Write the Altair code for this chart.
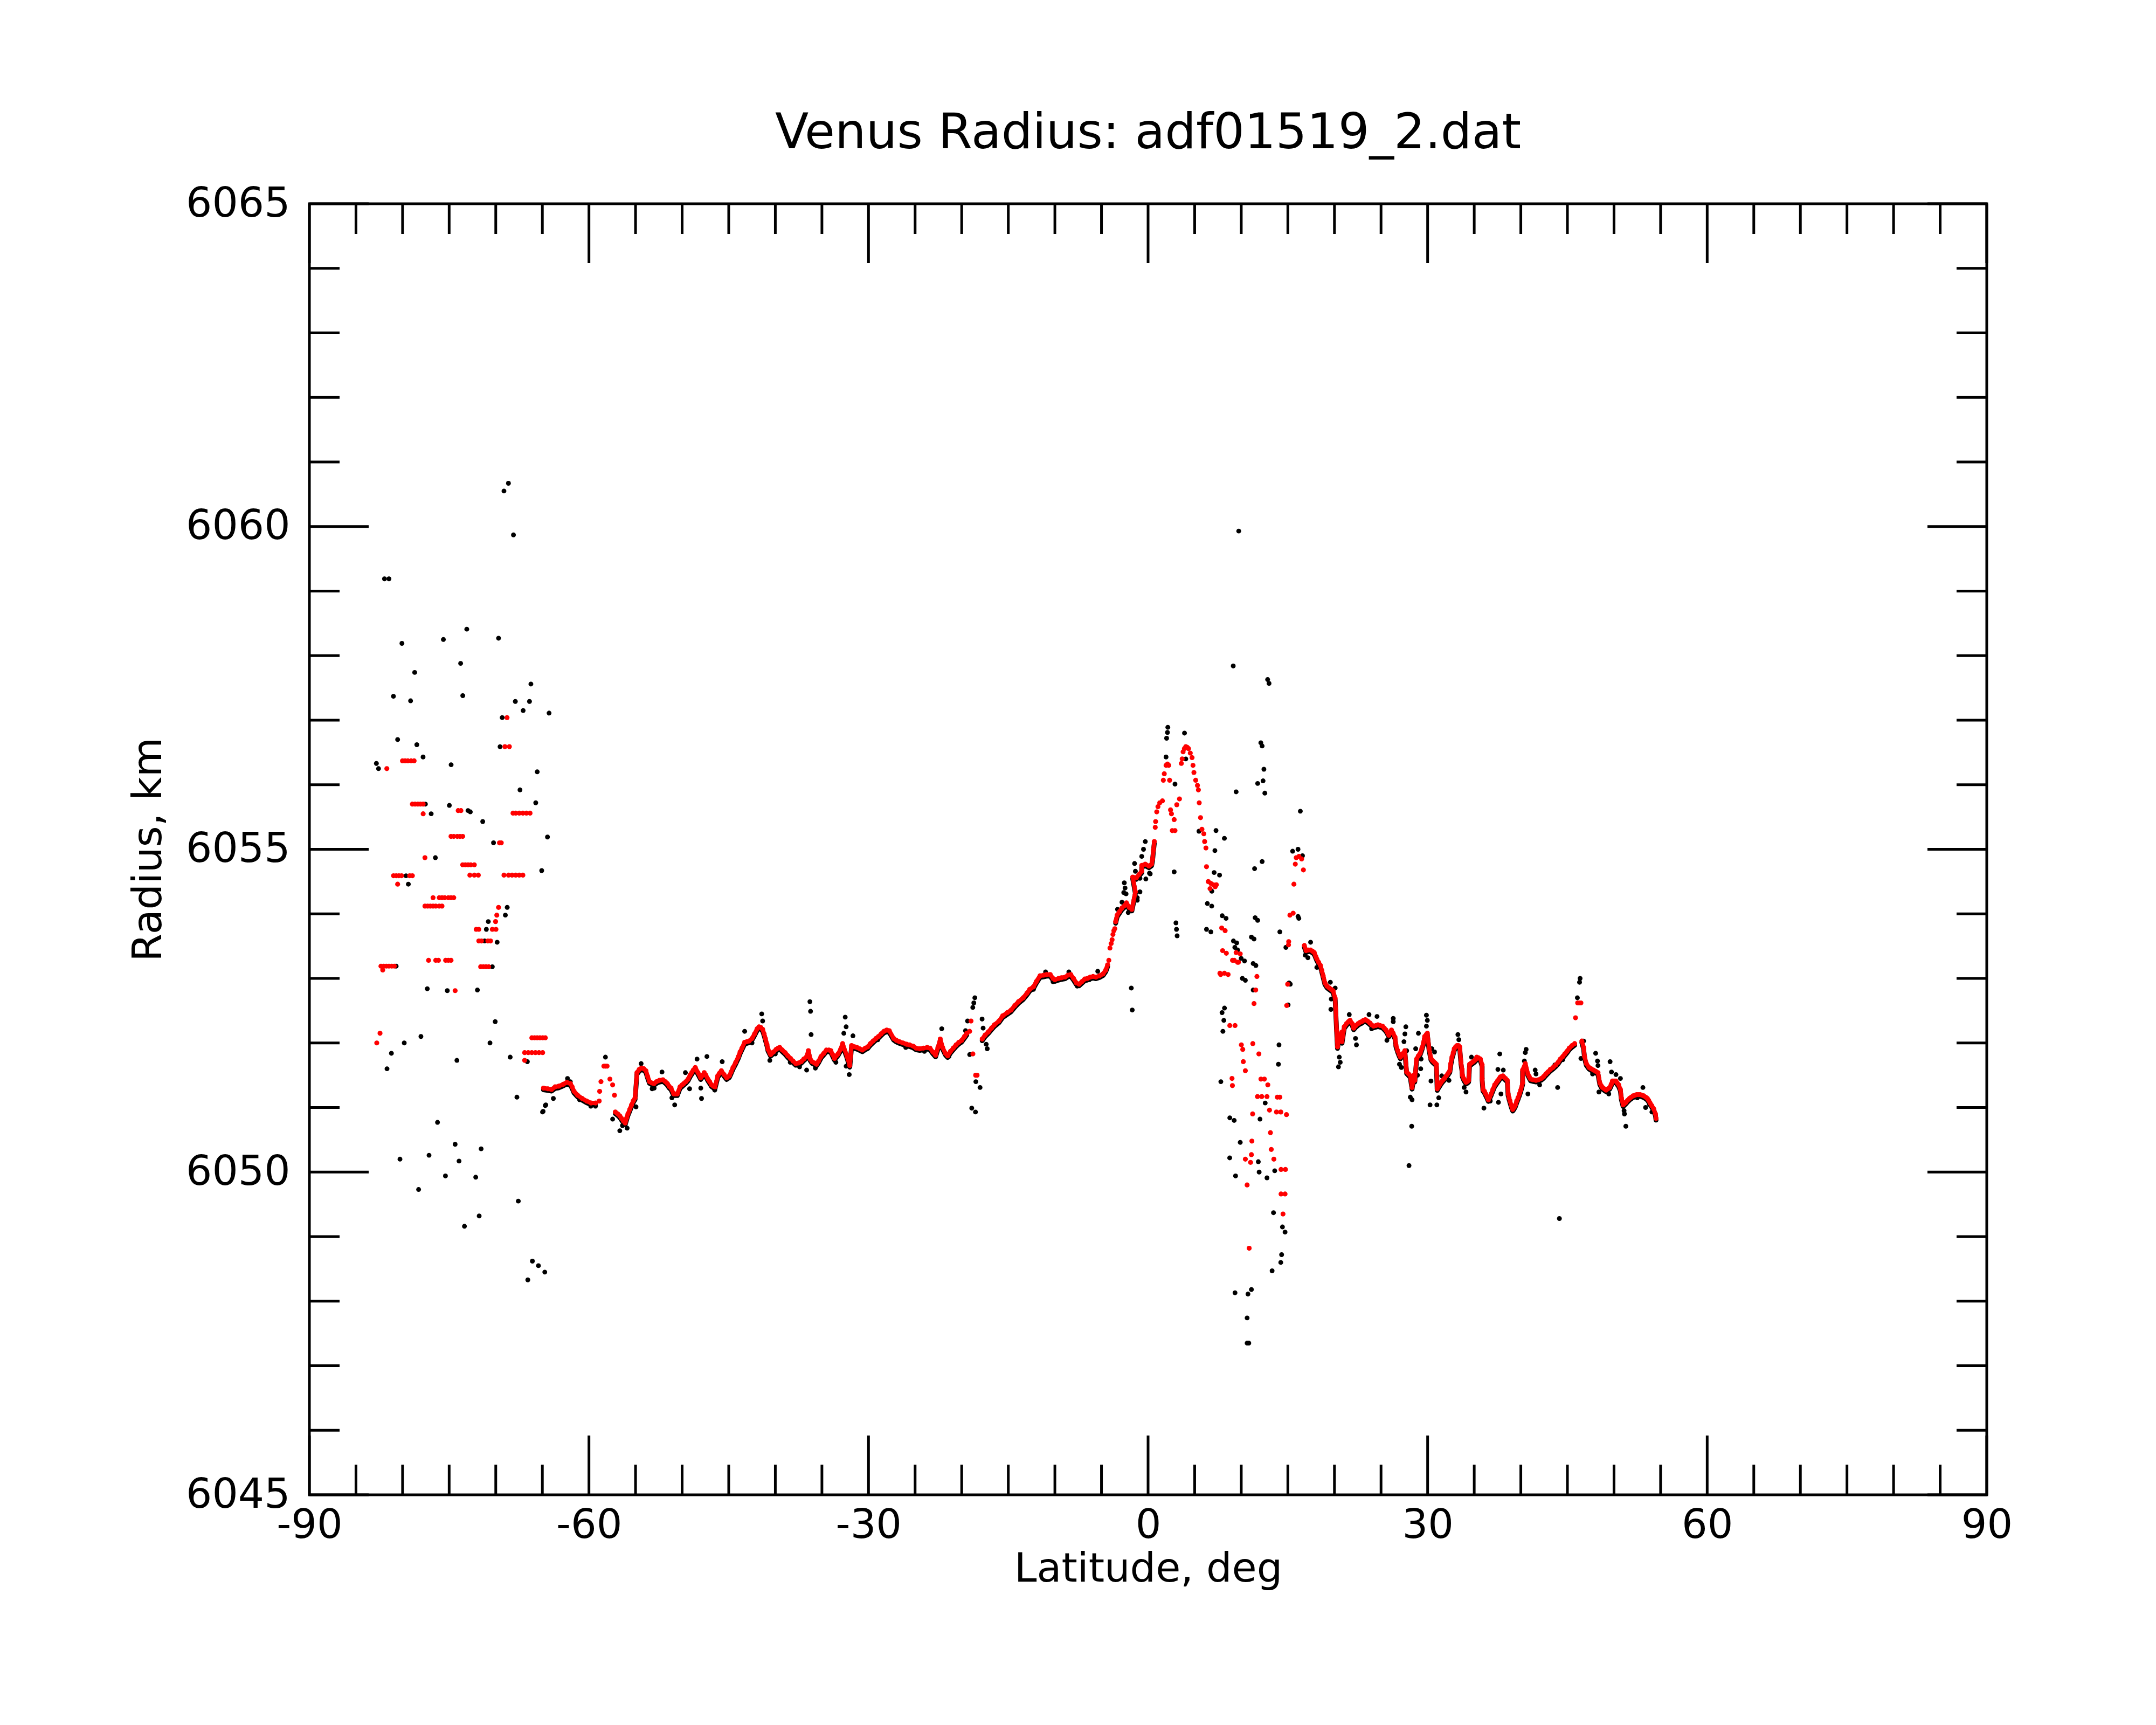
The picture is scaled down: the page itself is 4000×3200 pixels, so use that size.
import altair as alt
import pandas as pd

TITLE = "Venus Radius: adf01519_2.dat"
X_TITLE = "Latitude, deg"
Y_TITLE = "Radius, km"

# ---------------- tick values ----------------
x_major = [-90, -60, -30, 0, 30, 60, 90]
x_minor = [-85, -80, -75, -70, -65, -55, -50, -45, -40, -35, -25, -20, -15, -10, -5,
           5, 10, 15, 20, 25, 35, 40, 45, 50, 55, 65, 70, 75, 80, 85]
y_major = [6045, 6050, 6055, 6060, 6065]
y_minor = [6046, 6047, 6048, 6049, 6051, 6052, 6053, 6054, 6056, 6057, 6058, 6059,
           6061, 6062, 6063, 6064]

# latitude ranges in which the filtered (red) track is continuous
track_ranges = [(-64.9, -59.0), (-57.2, -19.2), (-17.9, -4.3), (-3.5, 0.7),
                (16.7, 45.8), (46.5, 54.6)]

# ---------------- red (filtered) points: (latitude, radius) ----------------
red_south = [
    (-82.77, 6052.00), (-82.42, 6052.15),
    (-82.32, 6053.19), (-82.13, 6053.13), (-82.03, 6053.19), (-81.74, 6053.19), (-81.46, 6053.19),
    (-81.17, 6053.19), (-80.88, 6053.19),
    (-81.69, 6056.25),
    (-80.97, 6054.59), (-80.68, 6054.59), (-80.40, 6054.59), (-80.11, 6054.59), (-79.24, 6054.59),
    (-78.95, 6054.59), (-80.53, 6054.46),
    (-80.01, 6056.37), (-79.72, 6056.37), (-79.43, 6056.37), (-79.08, 6056.37), (-78.76, 6056.37),
    (-78.95, 6055.70), (-78.66, 6055.70), (-78.37, 6055.70), (-78.08, 6055.70), (-77.79, 6055.70),
    (-77.79, 6055.55), (-77.60, 6054.87),
    (-77.60, 6054.12), (-77.31, 6054.12), (-77.02, 6054.12), (-76.73, 6054.12), (-76.44, 6054.12),
    (-76.06, 6054.12), (-75.77, 6054.12),
    (-76.73, 6054.25), (-76.06, 6054.25), (-75.77, 6054.25), (-75.48, 6054.25), (-75.09, 6054.25),
    (-74.80, 6054.25), (-74.51, 6054.25),
    (-77.21, 6053.28), (-76.44, 6053.28), (-76.15, 6053.28), (-75.38, 6053.28), (-75.09, 6053.28),
    (-74.80, 6053.28),
    (-74.80, 6055.20), (-74.51, 6055.20), (-74.13, 6055.20), (-73.84, 6055.20), (-73.55, 6055.20),
    (-74.36, 6052.81), (-74.03, 6055.60), (-73.74, 6055.60),
    (-73.55, 6054.76), (-73.26, 6054.76), (-72.97, 6054.76), (-72.68, 6054.76), (-72.30, 6054.76),
    (-72.78, 6054.60), (-72.30, 6054.60), (-71.87, 6054.60),
    (-72.10, 6053.76), (-71.82, 6053.76), (-70.37, 6053.76), (-69.98, 6053.76),
    (-71.82, 6053.58), (-71.53, 6053.58), (-70.85, 6053.58), (-70.56, 6053.58),
    (-71.62, 6053.18), (-71.33, 6053.18), (-71.04, 6053.18), (-70.76, 6053.18),
    (-70.02, 6053.88), (-69.89, 6053.98), (-69.70, 6054.10),
    (-69.60, 6055.10), (-69.41, 6055.10),
    (-69.12, 6054.60), (-68.63, 6054.60), (-68.25, 6054.60), (-67.86, 6054.60), (-67.48, 6054.60),
    (-67.09, 6054.60),
    (-69.02, 6056.59), (-68.54, 6056.59), (-68.79, 6057.04),
    (-68.15, 6055.56), (-67.86, 6055.56), (-67.48, 6055.56), (-67.09, 6055.56), (-66.71, 6055.56),
    (-66.32, 6055.56),
    (-66.90, 6051.85), (-66.51, 6051.85), (-66.13, 6051.85), (-65.74, 6051.85), (-65.36, 6051.85),
    (-64.97, 6051.85), (-66.90, 6051.73),
    (-66.13, 6052.08), (-65.84, 6052.08), (-65.55, 6052.08), (-65.26, 6052.08), (-64.97, 6052.08),
    (-64.68, 6052.08),
]

red_main_south = [
    (-64.88, 6051.30), (-64.40, 6051.29), (-64.01, 6051.28), (-63.63, 6051.32), (-63.24, 6051.33),
    (-62.76, 6051.36), (-62.37, 6051.39), (-61.99, 6051.37), (-61.80, 6051.32), (-61.60, 6051.25),
    (-61.22, 6051.19), (-60.73, 6051.14), (-60.25, 6051.10), (-59.77, 6051.07), (-59.29, 6051.07),
    (-58.90, 6051.10), (-58.85, 6051.25), (-58.71, 6051.40), (-58.40, 6051.64), (-58.23, 6051.64),
    (-58.05, 6051.64), (-57.75, 6051.44), (-57.46, 6051.35), (-57.26, 6051.19),
    (-57.17, 6050.93), (-56.90, 6050.90), (-56.69, 6050.87), (-56.50, 6050.83), (-56.30, 6050.79),
    (-56.11, 6050.76), (-55.95, 6050.84), (-55.82, 6050.90), (-55.62, 6050.97), (-55.43, 6051.04),
    (-55.25, 6051.10), (-55.05, 6051.15),
    (-54.85, 6051.54), (-54.60, 6051.59), (-54.37, 6051.61), (-54.10, 6051.60), (-53.89, 6051.57),
    (-53.70, 6051.48), (-53.50, 6051.40), (-53.25, 6051.38), (-53.02, 6051.37), (-52.75, 6051.40),
    (-52.45, 6051.42), (-52.06, 6051.43), (-51.80, 6051.40), (-51.58, 6051.37), (-51.40, 6051.33),
    (-51.19, 6051.30), (-50.90, 6051.21), (-50.70, 6051.21), (-50.52, 6051.21), (-50.23, 6051.32),
    (-50.00, 6051.35), (-49.84, 6051.37), (-49.60, 6051.40), (-49.36, 6051.44), (-49.15, 6051.50),
    (-48.97, 6051.54), (-48.80, 6051.58), (-48.59, 6051.62), (-48.30, 6051.54), (-48.01, 6051.46),
    (-47.80, 6051.50), (-47.63, 6051.54), (-47.45, 6051.50), (-47.24, 6051.44), (-47.05, 6051.40),
    (-46.85, 6051.35), (-46.65, 6051.33), (-46.47, 6051.32), (-46.18, 6051.49), (-46.00, 6051.53),
    (-45.79, 6051.57), (-45.50, 6051.51), (-45.22, 6051.46), (-44.93, 6051.49), (-44.75, 6051.55),
    (-44.54, 6051.62), (-44.25, 6051.70), (-43.96, 6051.79), (-43.78, 6051.86), (-43.58, 6051.92),
    (-43.29, 6052.01), (-43.05, 6052.02), (-42.81, 6052.03), (-42.50, 6052.07), (-42.23, 6052.14),
    (-41.95, 6052.22), (-41.75, 6052.25), (-41.55, 6052.24), (-41.36, 6052.21), (-41.20, 6052.14),
    (-41.07, 6052.07), (-40.90, 6051.98), (-40.78, 6051.90), (-40.60, 6051.85), (-40.50, 6051.82),
    (-40.20, 6051.86), (-39.92, 6051.90), (-39.70, 6051.92), (-39.53, 6051.93), (-39.25, 6051.89),
    (-38.95, 6051.85), (-38.65, 6051.80), (-38.37, 6051.76), (-38.10, 6051.72), (-37.80, 6051.68),
    (-37.50, 6051.69), (-37.22, 6051.71), (-36.95, 6051.75), (-36.64, 6051.79), (-36.45, 6051.88),
    (-36.25, 6051.75), (-36.06, 6051.71), (-35.80, 6051.69), (-35.58, 6051.67), (-35.35, 6051.72),
    (-35.10, 6051.79), (-34.80, 6051.84), (-34.52, 6051.89), (-34.25, 6051.89), (-34.04, 6051.88),
    (-33.85, 6051.82), (-33.65, 6051.76), (-33.45, 6051.80), (-33.27, 6051.83), (-33.00, 6051.90),
    (-32.78, 6051.99), (-32.30, 6051.79), (-32.01, 6051.65), (-31.82, 6051.96), (-31.50, 6051.94),
    (-31.24, 6051.93), (-30.95, 6051.91), (-30.66, 6051.89), (-30.35, 6051.92), (-30.08, 6051.94),
    (-29.80, 6051.99), (-29.51, 6052.03), (-29.20, 6052.07), (-28.93, 6052.10), (-28.65, 6052.14),
    (-28.35, 6052.18), (-28.05, 6052.20), (-27.77, 6052.19),
    (-27.30, 6052.07), (-27.00, 6052.04), (-26.70, 6052.02), (-26.30, 6052.00), (-25.90, 6051.98),
    (-25.60, 6051.97), (-25.20, 6051.95), (-24.90, 6051.92), (-24.50, 6051.91), (-24.10, 6051.92),
    (-23.70, 6051.93), (-23.40, 6051.92), (-23.10, 6051.86), (-22.80, 6051.81), (-22.55, 6051.93),
    (-22.30, 6052.06), (-22.05, 6051.93), (-21.75, 6051.84), (-21.50, 6051.80), (-21.20, 6051.87),
    (-20.90, 6051.92), (-20.60, 6051.97), (-20.30, 6052.01), (-20.00, 6052.04), (-19.70, 6052.10),
    (-19.45, 6052.15), (-19.15, 6052.18), (-19.00, 6052.34), (-18.80, 6051.83), (-18.50, 6051.50),
    (-18.35, 6051.50),
    (-17.80, 6052.06), (-17.50, 6052.12), (-17.15, 6052.17), (-16.80, 6052.23), (-16.50, 6052.28),
    (-16.00, 6052.34), (-15.60, 6052.42), (-15.10, 6052.47), (-14.70, 6052.51), (-14.30, 6052.58),
    (-13.90, 6052.64), (-13.40, 6052.70), (-13.00, 6052.77), (-12.70, 6052.83), (-12.30, 6052.87),
    (-12.00, 6052.95), (-11.60, 6053.04), (-11.20, 6053.05), (-10.90, 6053.06), (-10.50, 6053.06),
    (-10.20, 6053.00), (-10.00, 6052.98), (-9.60, 6053.00), (-9.30, 6053.01), (-8.90, 6053.02),
    (-8.60, 6053.05), (-8.30, 6053.06), (-8.00, 6053.00), (-7.70, 6052.93), (-7.40, 6052.91),
    (-7.10, 6052.95), (-6.80, 6052.99), (-6.50, 6053.00), (-6.20, 6053.02), (-5.90, 6053.03),
    (-5.60, 6053.02), (-5.21, 6053.04), (-4.83, 6053.07), (-4.54, 6053.13), (-4.34, 6053.21),
    (-4.21, 6053.28), (-4.09, 6053.47), (-3.96, 6053.54), (-3.86, 6053.60), (-3.77, 6053.68),
    (-3.67, 6053.74), (-3.57, 6053.77), (-3.48, 6053.88), (-3.32, 6053.98), (-3.09, 6054.03),
    (-2.80, 6054.09), (-2.51, 6054.13), (-2.32, 6054.17), (-2.03, 6054.10), (-1.74, 6054.07),
    (-1.36, 6054.34), (-1.65, 6054.57), (-1.26, 6054.56), (-0.97, 6054.61), (-0.68, 6054.66),
    (-0.68, 6054.75), (-0.30, 6054.77), (0.09, 6054.74), (0.38, 6054.77), (0.48, 6054.85),
    (0.57, 6054.99), (0.67, 6055.12),
]

red_peak = [
    (0.77, 6055.34), (0.81, 6055.43), (0.93, 6055.58), (1.06, 6055.66), (1.25, 6055.72),
    (1.54, 6055.75), (1.64, 6056.07), (1.74, 6056.17), (1.93, 6056.30), (2.08, 6056.32),
    (2.22, 6056.30), (2.31, 6056.07), (2.41, 6055.61), (2.51, 6055.55), (2.60, 6055.29),
    (2.80, 6055.46), (2.89, 6055.29), (3.08, 6055.69), (3.37, 6055.78), (3.57, 6056.33),
    (3.66, 6056.40), (3.76, 6056.51), (3.90, 6056.56), (4.05, 6056.59), (4.20, 6056.58),
    (4.34, 6056.56), (4.53, 6056.49), (4.72, 6056.42), (4.82, 6056.30), (4.92, 6056.19),
    (5.11, 6056.07), (5.30, 6055.99), (5.40, 6055.92), (5.49, 6055.72), (5.63, 6055.49),
    (5.78, 6055.31), (5.98, 6055.24), (6.07, 6055.12), (6.21, 6055.02), (6.27, 6054.73),
    (6.46, 6054.50), (6.65, 6054.39), (6.75, 6054.47), (7.00, 6054.45), (7.20, 6054.42),
    (7.33, 6054.45), (7.90, 6053.78), (8.00, 6053.43), (7.71, 6053.08), (8.19, 6053.08),
    (9.06, 6053.28), (9.25, 6053.28), (9.45, 6053.40),
]

red_scatter_north = [
    (8.27, 6053.74), (8.40, 6053.39), (9.89, 6053.38), (9.60, 6053.25), (9.70, 6053.25),
    (7.79, 6053.06), (8.59, 6053.06), (11.68, 6053.03), (11.55, 6052.82), (11.37, 6052.61),
    (8.77, 6052.27), (9.33, 6052.27), (10.01, 6051.97), (10.16, 6051.90), (11.24, 6051.99),
    (11.89, 6051.83), (10.22, 6051.71), (10.44, 6051.57), (9.01, 6051.45), (9.05, 6051.34),
    (12.11, 6051.44), (12.48, 6051.44), (12.85, 6051.35), (11.74, 6051.17), (12.20, 6051.17),
    (12.76, 6051.17), (13.87, 6051.16), (14.14, 6051.16), (11.22, 6050.90), (13.03, 6050.96),
    (13.78, 6050.93), (14.24, 6050.93), (14.85, 6050.89), (13.13, 6050.61), (11.14, 6050.48),
    (13.22, 6050.35), (11.09, 6050.27), (10.44, 6050.20), (11.00, 6050.15), (13.50, 6050.20),
    (14.27, 6050.04), (14.74, 6050.04), (10.63, 6049.80), (14.27, 6049.66), (14.70, 6049.66),
    (14.48, 6049.35), (10.85, 6048.82),
    (14.88, 6052.58), (14.98, 6052.91), (15.07, 6053.52), (15.09, 6053.57),
]

red_main_north = [
    (15.22, 6053.98), (15.57, 6054.01), (15.65, 6054.46), (15.80, 6054.77), (15.90, 6054.87),
    (16.19, 6054.89), (16.48, 6054.85), (16.67, 6054.68),
    (16.77, 6053.51), (16.96, 6053.43), (17.20, 6053.44), (17.44, 6053.44), (17.65, 6053.42),
    (17.83, 6053.40), (18.00, 6053.34), (18.11, 6053.30), (18.30, 6053.25), (18.50, 6053.20),
    (18.65, 6053.12), (18.79, 6053.04), (18.98, 6052.93), (19.20, 6052.88), (19.46, 6052.85),
    (19.65, 6052.83), (19.85, 6052.81), (20.08, 6052.69), (20.24, 6052.19), (20.33, 6051.94),
    (20.50, 6052.10), (20.81, 6052.17), (20.81, 6052.02), (21.05, 6052.25), (21.30, 6052.30),
    (21.50, 6052.33), (21.68, 6052.35), (21.90, 6052.30), (22.07, 6052.23), (22.30, 6052.27),
    (22.55, 6052.30), (22.75, 6052.32), (22.93, 6052.33), (23.12, 6052.35), (23.32, 6052.36),
    (23.55, 6052.34), (23.80, 6052.31), (24.00, 6052.28), (24.19, 6052.26), (24.45, 6052.27),
    (24.67, 6052.28), (24.90, 6052.27), (25.15, 6052.26), (25.35, 6052.23), (25.54, 6052.20),
    (25.70, 6052.16), (25.83, 6052.12), (26.00, 6052.16), (26.12, 6052.20), (26.30, 6052.15),
    (26.50, 6052.09), (26.60, 6051.97), (26.79, 6051.88), (26.95, 6051.82), (27.08, 6051.78),
    (27.30, 6051.83), (27.56, 6051.88), (27.75, 6051.55), (27.95, 6051.52), (28.14, 6051.49),
    (28.33, 6051.31), (28.53, 6051.50), (28.62, 6051.42), (28.81, 6051.75), (29.00, 6051.80),
    (29.20, 6051.84), (29.39, 6051.92), (29.55, 6052.00), (29.68, 6052.10), (29.85, 6052.13),
    (29.97, 6052.15), (30.16, 6051.91), (30.36, 6051.76), (30.50, 6051.73), (30.65, 6051.71),
    (30.80, 6051.69), (30.94, 6051.67), (31.03, 6051.29), (31.18, 6051.33), (31.32, 6051.36),
    (31.45, 6051.39), (31.61, 6051.42), (31.80, 6051.45), (32.00, 6051.49), (32.20, 6051.53),
    (32.38, 6051.57), (32.48, 6051.68), (32.61, 6051.78), (32.75, 6051.85), (32.86, 6051.91),
    (33.00, 6051.94), (33.15, 6051.96), (33.30, 6051.96), (33.44, 6051.94), (33.58, 6051.70),
    (33.69, 6051.59), (33.73, 6051.50), (33.90, 6051.44), (34.12, 6051.39), (34.25, 6051.40),
    (34.40, 6051.42), (34.50, 6051.67), (34.70, 6051.69), (34.89, 6051.71), (35.05, 6051.73),
    (35.18, 6051.75), (35.27, 6051.78), (35.45, 6051.77), (35.66, 6051.75), (35.85, 6051.66),
    (35.85, 6051.45), (35.94, 6051.28), (36.10, 6051.25), (36.23, 6051.21), (36.40, 6051.16),
    (36.52, 6051.12), (36.65, 6051.16), (36.81, 6051.21), (37.00, 6051.28), (37.20, 6051.35),
    (37.35, 6051.38), (37.49, 6051.41), (37.65, 6051.44), (37.78, 6051.47), (37.90, 6051.48),
    (38.07, 6051.49), (38.20, 6051.47), (38.35, 6051.45), (38.55, 6051.42), (38.64, 6051.21),
    (38.74, 6051.15), (38.84, 6051.10), (38.98, 6051.03), (39.13, 6050.97), (39.28, 6051.00),
    (39.42, 6051.04), (39.56, 6051.10), (39.70, 6051.15), (39.85, 6051.21), (39.99, 6051.27),
    (40.19, 6051.38), (40.19, 6051.58), (40.48, 6051.68), (40.76, 6051.52), (40.90, 6051.48),
    (41.05, 6051.44), (41.30, 6051.43), (41.63, 6051.42), (41.90, 6051.43), (42.21, 6051.45),
    (42.45, 6051.48), (42.69, 6051.52), (42.90, 6051.55), (43.17, 6051.59), (43.45, 6051.62),
    (43.75, 6051.66), (44.00, 6051.70), (44.23, 6051.75), (44.50, 6051.79), (44.72, 6051.83),
    (44.95, 6051.87), (45.20, 6051.92), (45.50, 6051.96), (45.78, 6051.99), (45.87, 6052.39),
    (46.10, 6052.62), (46.26, 6052.62), (46.45, 6052.62), (46.55, 6052.03), (46.74, 6051.93),
    (46.84, 6051.79), (47.03, 6051.68), (47.32, 6051.62), (47.55, 6051.60), (47.80, 6051.58),
    (48.05, 6051.56), (48.28, 6051.54), (48.48, 6051.38), (48.62, 6051.34), (48.77, 6051.31),
    (48.95, 6051.29), (49.15, 6051.27), (49.35, 6051.29), (49.54, 6051.31), (49.70, 6051.36),
    (49.83, 6051.41), (50.00, 6051.41), (50.21, 6051.41), (50.35, 6051.38), (50.50, 6051.35),
    (50.69, 6051.28), (50.79, 6051.15), (50.98, 6051.04), (51.12, 6051.06), (51.27, 6051.08),
    (51.45, 6051.11), (51.66, 6051.14), (51.85, 6051.16), (52.04, 6051.18), (52.25, 6051.19),
    (52.43, 6051.20), (52.62, 6051.20), (52.81, 6051.20), (53.00, 6051.19), (53.20, 6051.18),
    (53.40, 6051.16), (53.58, 6051.14), (53.72, 6051.11), (53.87, 6051.07), (54.05, 6051.03),
    (54.26, 6050.98), (54.45, 6050.90), (54.51, 6050.83),
]

# ---------------- black (raw) points: (latitude, radius) ----------------
black_south = [
    (-69.12, 6060.55), (-68.64, 6060.67), (-68.10, 6059.87), (-81.94, 6059.19), (-81.46, 6059.19),
    (-80.07, 6058.19), (-75.62, 6058.25), (-73.11, 6058.41), (-69.70, 6058.27), (-78.70, 6057.74),
    (-73.77, 6057.88), (-80.98, 6057.37), (-79.14, 6057.30), (-73.54, 6057.38), (-66.23, 6057.56),
    (-67.90, 6057.29), (-66.38, 6057.29), (-67.06, 6057.15), (-64.28, 6057.11), (-69.31, 6057.04),
    (-80.53, 6056.70), (-78.47, 6056.62), (-69.54, 6056.59), (-82.81, 6056.33), (-82.58, 6056.25),
    (-77.80, 6056.43), (-74.79, 6056.31), (-65.55, 6056.20), (-67.40, 6055.92), (-65.71, 6055.72),
    (-77.55, 6055.70), (-76.93, 6055.55), (-74.98, 6055.68), (-72.98, 6055.60), (-72.73, 6055.58),
    (-71.40, 6055.43), (-64.45, 6055.19), (-70.24, 6055.10), (-76.48, 6054.87), (-79.63, 6054.59),
    (-79.38, 6054.46), (-65.07, 6054.67), (-68.77, 6054.10), (-68.97, 6053.98), (-70.80, 6053.88),
    (-71.01, 6053.76), (-71.20, 6053.58), (-69.85, 6053.56), (-80.69, 6053.19), (-70.37, 6053.18),
    (-77.35, 6052.84), (-75.20, 6052.81), (-71.97, 6052.82), (-70.06, 6052.33), (-81.20, 6051.84),
    (-81.67, 6051.60), (-79.82, 6052.00), (-78.03, 6052.10), (-70.62, 6052.00), (-74.17, 6051.73),
    (-68.45, 6051.78), (-66.61, 6051.71), (-67.73, 6051.16), (-64.92, 6050.94), (-64.63, 6051.04),
    (-76.25, 6050.77), (-74.36, 6050.43), (-77.16, 6050.26), (-80.28, 6050.20), (-73.94, 6050.17),
    (-71.57, 6050.36), (-75.40, 6049.94), (-72.15, 6049.92), (-78.28, 6049.73), (-67.58, 6049.55),
    (-71.78, 6049.32), (-73.36, 6049.16), (-66.07, 6048.62), (-65.42, 6048.55), (-64.74, 6048.45),
    (-66.56, 6048.33),
]

black_main_south = [
    (-64.98, 6050.93), (-64.69, 6051.03), (-63.82, 6051.14), (-62.30, 6051.45), (-62.00, 6051.40),
    (-61.00, 6051.12), (-59.80, 6051.02), (-59.30, 6051.02), (-58.23, 6051.78), (-57.46, 6050.82),
    (-56.69, 6050.64), (-56.40, 6050.72), (-55.90, 6050.68), (-54.95, 6051.01), (-54.40, 6051.68),
    (-53.22, 6051.29), (-53.00, 6051.30), (-52.16, 6051.55), (-51.10, 6051.15), (-50.80, 6051.04),
    (-49.65, 6051.54), (-49.20, 6051.29), (-48.40, 6051.75), (-48.00, 6051.30), (-47.92, 6051.14),
    (-47.34, 6051.79), (-46.50, 6051.27), (-45.70, 6051.71), (-43.29, 6052.18), (-42.50, 6052.00),
    (-41.46, 6052.45), (-41.36, 6052.34), (-40.59, 6051.73), (-40.00, 6051.83), (-38.40, 6051.70),
    (-37.40, 6051.63), (-36.64, 6051.58), (-36.29, 6052.64), (-36.22, 6052.49), (-36.16, 6052.13),
    (-35.70, 6051.61), (-33.50, 6051.70), (-32.65, 6052.15), (-32.50, 6052.40), (-32.40, 6052.25),
    (-32.40, 6051.64), (-32.07, 6051.51), (-31.67, 6052.11), (-29.00, 6052.05), (-26.00, 6051.93),
    (-24.00, 6051.87), (-22.81, 6051.81), (-22.14, 6052.22), (-21.37, 6051.79),
    (-19.59, 6052.19), (-19.37, 6052.34), (-19.14, 6051.82), (-18.81, 6052.55), (-18.70, 6052.62),
    (-18.59, 6052.70), (-18.48, 6051.40), (-18.03, 6051.31), (-18.92, 6050.99), (-18.52, 6050.93),
    (-17.81, 6052.37), (-17.70, 6052.23), (-17.37, 6051.98), (-17.26, 6051.91),
    (-12.30, 6052.83), (-11.00, 6053.10), (-10.20, 6052.95), (-8.50, 6053.10), (-7.60, 6052.88),
    (-6.30, 6052.98), (-5.40, 6053.11),
    (-3.28, 6054.07), (-2.80, 6054.18), (-2.61, 6054.33), (-2.55, 6054.48), (-2.47, 6054.40),
    (-2.36, 6054.31), (-2.13, 6054.02), (-1.80, 6052.85), (-1.70, 6052.51), (-1.45, 6054.78),
    (-1.36, 6054.66), (-1.16, 6054.25), (-1.16, 6054.21), (-0.87, 6054.55), (-0.87, 6054.34),
    (-0.68, 6054.89), (-0.49, 6055.00), (-0.30, 6055.12), (-0.24, 6054.54), (0.15, 6054.63),
    (0.23, 6054.62),
]

black_peak = [
    (2.12, 6056.89), (2.08, 6056.81), (1.99, 6056.72), (3.91, 6056.80), (1.93, 6056.43),
    (2.89, 6056.01), (4.05, 6056.40), (2.80, 6054.65), (9.45, 6055.89), (11.76, 6056.02),
    (12.43, 6056.24), (12.34, 6056.06), (12.53, 6055.87), (7.29, 6055.29), (8.19, 6055.17),
    (7.17, 6054.98), (5.46, 6055.28), (7.09, 6054.64), (7.67, 6054.60), (12.24, 6054.81),
    (11.43, 6054.70), (6.84, 6054.35), (6.36, 6054.16), (7.96, 6053.97), (11.49, 6053.94),
    (2.99, 6053.86), (3.05, 6053.76), (3.12, 6053.66), (6.27, 6053.76), (9.16, 6053.58),
    (9.31, 6053.48), (11.09, 6053.64), (9.99, 6053.31), (11.28, 6053.23), (10.12, 6053.00),
    (9.73, 6059.93), (9.14, 6057.84), (12.83, 6057.63), (12.98, 6057.57), (12.10, 6056.65),
    (12.24, 6056.60),
]

black_scatter_north = [
    (6.83, 6054.12), (8.37, 6053.93), (11.76, 6053.90), (6.74, 6053.72), (14.14, 6053.72),
    (11.37, 6053.61), (16.18, 6053.93), (9.51, 6053.55), (9.61, 6053.44), (10.35, 6053.27),
    (11.57, 6053.20), (10.44, 6052.97), (14.79, 6053.48), (15.26, 6052.91), (11.28, 6052.82),
    (8.20, 6052.54), (7.94, 6052.47), (8.13, 6052.35), (8.03, 6052.18), (14.05, 6051.97),
    (13.99, 6051.67), (7.81, 6051.40), (12.57, 6051.07), (8.77, 6050.84), (9.24, 6050.80),
    (12.01, 6050.82), (9.89, 6050.46), (8.76, 6050.22), (11.83, 6050.16), (11.92, 6050.00),
    (12.76, 6049.91), (9.39, 6049.94), (13.59, 6050.02), (13.46, 6049.37), (14.42, 6049.15),
    (14.70, 6049.07), (14.33, 6048.72), (14.24, 6048.60), (13.31, 6048.47), (11.09, 6048.18),
    (9.33, 6048.13), (10.72, 6048.11), (10.63, 6047.74), (10.63, 6047.35), (10.81, 6047.35),
]

black_main_north = [
    (16.34, 6055.59), (15.51, 6054.97), (16.09, 6055.00), (16.57, 6054.90), (16.09, 6053.96),
    (15.13, 6052.93), (15.03, 6052.59), (17.44, 6053.56), (16.86, 6053.36), (17.15, 6053.32),
    (18.11, 6053.17), (19.56, 6052.94), (20.08, 6052.85), (19.66, 6052.68), (19.62, 6052.52),
    (21.59, 6052.44), (23.71, 6052.44), (24.57, 6052.41), (26.31, 6052.38), (26.31, 6052.33),
    (22.26, 6052.07), (22.36, 6051.97), (20.52, 6051.78), (20.62, 6051.70), (20.43, 6051.63),
    (23.99, 6052.22), (25.63, 6052.04), (27.66, 6052.25), (27.56, 6052.14), (27.46, 6052.02),
    (27.75, 6051.88), (26.98, 6051.67), (27.18, 6051.62), (28.91, 6051.50), (28.14, 6051.16),
    (28.33, 6051.12), (28.29, 6050.71), (28.00, 6050.10), (29.01, 6052.15), (29.87, 6052.43),
    (29.97, 6052.35), (29.87, 6052.26), (28.72, 6051.91), (29.30, 6051.75), (29.26, 6051.60),
    (30.45, 6051.91), (30.74, 6051.86), (30.36, 6051.41), (30.26, 6051.04), (30.99, 6051.04),
    (31.19, 6051.15), (31.51, 6051.49), (32.29, 6051.42), (33.25, 6052.13), (33.35, 6052.05),
    (34.12, 6051.24), (33.92, 6051.31), (34.70, 6051.78),
    (36.04, 6050.99), (36.72, 6051.10), (37.60, 6051.08), (37.87, 6051.21), (37.74, 6051.83),
    (37.54, 6051.59), (38.12, 6051.58), (40.57, 6051.90), (40.48, 6051.85), (40.38, 6051.72),
    (40.76, 6051.21), (41.54, 6051.58), (41.63, 6051.52), (42.02, 6051.35), (43.95, 6051.31),
    (43.66, 6051.66), (44.14, 6049.28), (44.50, 6051.74), (46.36, 6053.00), (46.30, 6052.94),
    (46.07, 6052.70), (46.74, 6052.03), (46.45, 6051.76), (48.03, 6051.84), (48.23, 6051.72),
    (48.28, 6051.65), (47.70, 6051.52), (49.58, 6051.71), (49.73, 6051.55), (50.21, 6051.51),
    (50.69, 6051.45), (48.38, 6051.24), (49.44, 6051.21), (51.08, 6050.95), (51.12, 6050.90),
    (51.27, 6050.71), (52.50, 6051.15), (53.10, 6051.31), (53.39, 6051.00), (53.80, 6051.05),
    (54.07, 6050.93),
]

red_all = red_south + red_main_south + red_peak + red_scatter_north + red_main_north
red_df = pd.DataFrame(red_all, columns=["lat", "radius"])
black_df = pd.DataFrame(black_south + black_main_south + black_peak + black_scatter_north
                        + black_main_north, columns=["lat", "radius"])

# continuous pieces of the filtered track (same red values, grouped by range)
track_rows = []
for k, (lo, hi) in enumerate(track_ranges):
    for lat, r in red_main_south + red_main_north:
        if lo <= lat <= hi:
            track_rows.append({"lat": lat, "radius": r, "seg": k, "order": len(track_rows)})
track_df = pd.DataFrame(track_rows)

W, H = 3112, 2395
MAJ, MIN, TW = 110, 56, 5
FONT = "DejaVu Sans"

xs = alt.Scale(domain=[-90, 90], nice=False, zero=False)
ys = alt.Scale(domain=[6045, 6065], nice=False, zero=False)

x_axis = alt.Axis(values=x_major, labelExpr="datum.value + ''", ticks=False, tickSize=0,
                  domain=False, grid=False, labelFlush=False, labelOverlap=False, labelLimit=0,
                  labelFontSize=75, labelPadding=20, labelColor="black", labelFont=FONT,
                  title=X_TITLE, titleFontSize=75, titleFont=FONT, titleFontWeight="normal",
                  titleColor="black", titlePadding=7)
y_axis = alt.Axis(values=y_major, format="d", ticks=False, tickSize=0, domain=False, grid=False,
                  labelFlush=False, labelOverlap=False, labelLimit=0, labelFontSize=76,
                  labelPadding=36, labelColor="black", labelFont=FONT, title=Y_TITLE,
                  titleFontSize=75, titleFont=FONT, titleFontWeight="normal", titleColor="black",
                  titlePadding=60)

X = lambda: alt.X("lat:Q", scale=xs, axis=x_axis, title=X_TITLE)
Y = lambda: alt.Y("radius:Q", scale=ys, axis=y_axis, title=Y_TITLE)


def xticks(vals, length, top):
    df = pd.DataFrame({"lat": vals})
    if top:
        yy, yy2 = alt.value(0), alt.value(length)
    else:
        yy, yy2 = alt.value(H), alt.value(H - length)
    return alt.Chart(df).mark_rule(color="black", strokeWidth=TW).encode(x=X(), y=yy, y2=yy2)


def yticks(vals, length, right):
    df = pd.DataFrame({"radius": vals})
    if right:
        xx, xx2 = alt.value(W - length), alt.value(W)
    else:
        xx, xx2 = alt.value(0), alt.value(length)
    return alt.Chart(df).mark_rule(color="black", strokeWidth=TW).encode(y=Y(), x=xx, x2=xx2)


track_black = alt.Chart(track_df).mark_line(color="black", strokeWidth=9, yOffset=3,
                                            strokeCap="round", strokeJoin="round").encode(
    x=X(), y=Y(), detail="seg:N", order="order:Q")
track_red = alt.Chart(track_df).mark_line(color="#ff0000", strokeWidth=8, strokeCap="round",
                                          strokeJoin="round").encode(
    x=X(), y=Y(), detail="seg:N", order="order:Q")

layers = [
    xticks(x_major, MAJ, False), xticks(x_major, MAJ, True),
    xticks(x_minor, MIN, False), xticks(x_minor, MIN, True),
    yticks(y_major, MAJ, False), yticks(y_major, MAJ, True),
    yticks(y_minor, MIN, False), yticks(y_minor, MIN, True),
    alt.Chart(black_df).mark_circle(size=80, color="black", opacity=1).encode(x=X(), y=Y()),
    track_black,
    track_red,
    alt.Chart(red_df).mark_circle(size=85, color="#ff0000", opacity=1).encode(x=X(), y=Y()),
]

chart = alt.layer(*layers).properties(
    width=W, height=H,
    title=alt.TitleParams(text=TITLE, fontSize=91, font=FONT, fontWeight="normal", color="black",
                          anchor="middle", baseline="alphabetic", offset=-26),
    autosize=alt.AutoSizeParams(type="none"),
    padding={"left": 566, "top": 370, "right": 306, "bottom": 419},
).configure(font=FONT).configure_view(stroke="black", strokeWidth=TW)

chart.save("out.html", embed_options={"renderer": "svg", "actions": False})
